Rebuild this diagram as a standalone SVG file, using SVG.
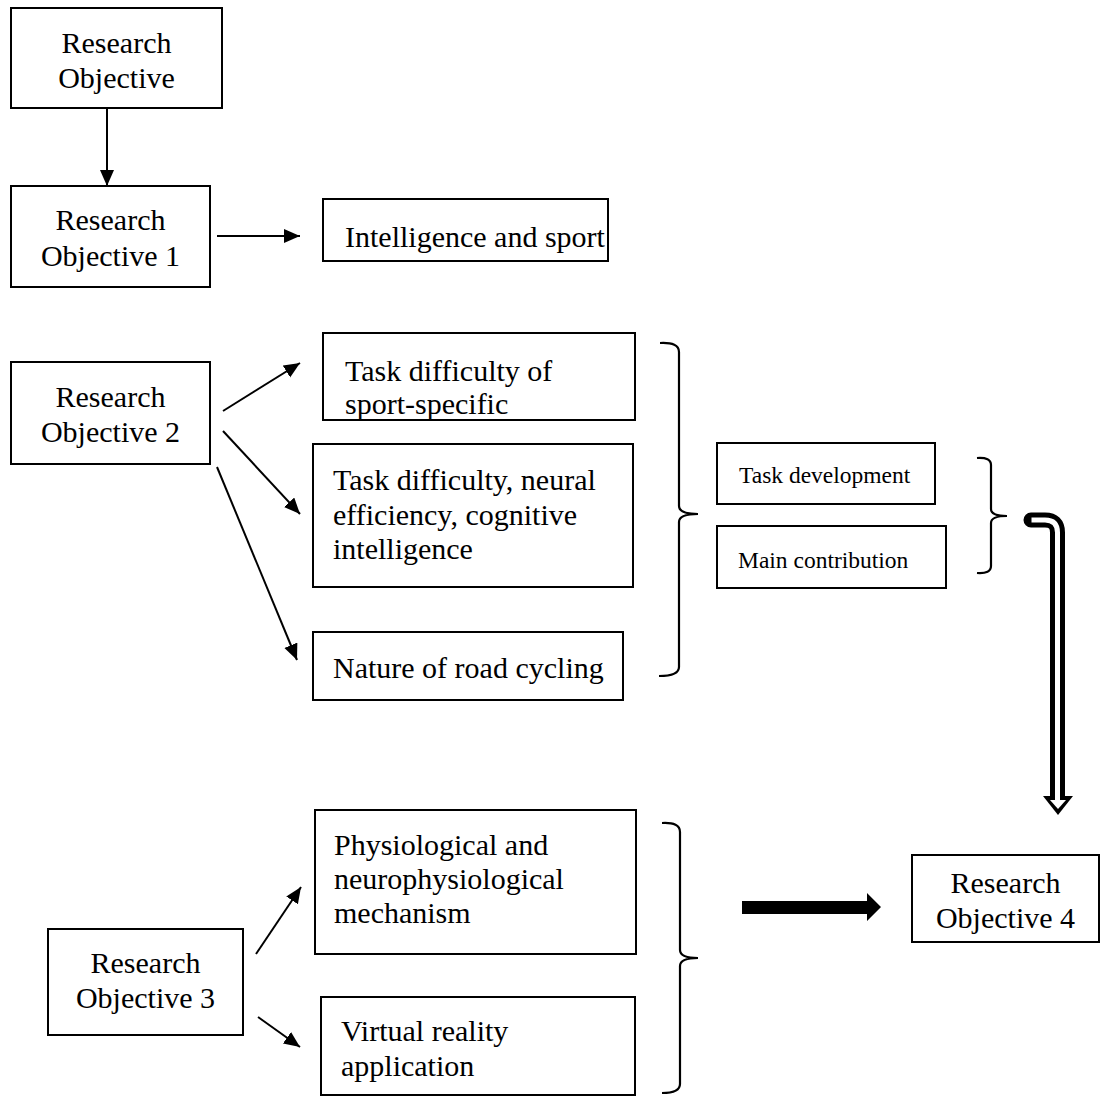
<svg xmlns="http://www.w3.org/2000/svg" width="1101" height="1102" viewBox="0 0 1101 1102">
<style>
.box{fill:#fff;stroke:#000;stroke-width:2}
.t{font-family:"Liberation Serif","Times New Roman",serif;font-size:30px;fill:#000}
.s{font-family:"Liberation Serif","Times New Roman",serif;font-size:23.5px;fill:#000}
.c{text-anchor:middle}
.ln{fill:none;stroke:#000;stroke-width:2}
.br{fill:none;stroke:#000;stroke-width:2.2}
</style>
<defs>
<marker id="ah" markerUnits="userSpaceOnUse" markerWidth="17" markerHeight="15" refX="16" refY="7" orient="auto">
<path d="M0,0 L16,7 L0,14 z" fill="#000"/>
</marker>
</defs>
<rect width="1101" height="1102" fill="#fff"/>
<g id="ro">
<rect class="box" x="11" y="8" width="211" height="100"/>
<text class="t c" x="116.5" y="53">Research</text>
<text class="t c" x="116.5" y="88">Objective</text>
</g>
<g id="ro1">
<rect class="box" x="11" y="186" width="199" height="101"/>
<text class="t c" x="110.5" y="230">Research</text>
<text class="t c" x="110.5" y="266">Objective 1</text>
</g>
<g id="intel">
<rect class="box" x="323" y="199" width="285" height="62"/>
<text class="t" x="345" y="247">Intelligence and sport</text>
</g>
<g id="ro2">
<rect class="box" x="11" y="362" width="199" height="102"/>
<text class="t c" x="110.5" y="407">Research</text>
<text class="t c" x="110.5" y="442">Objective 2</text>
</g>
<g id="taskdiff">
<rect class="box" x="323" y="333" width="312" height="87"/>
<text class="t" x="345" y="381">Task difficulty of</text>
<text class="t" x="345" y="414">sport-specific</text>
</g>
<g id="neural">
<rect class="box" x="313" y="444" width="320" height="143"/>
<text class="t" x="333" y="490">Task difficulty, neural</text>
<text class="t" x="333" y="525">efficiency, cognitive</text>
<text class="t" x="333" y="559">intelligence</text>
</g>
<g id="nature">
<rect class="box" x="313" y="632" width="310" height="68"/>
<text class="t" x="333" y="678">Nature of road cycling</text>
</g>
<g id="taskdev">
<rect class="box" x="717" y="443" width="218" height="61"/>
<text class="s" x="739" y="483">Task development</text>
</g>
<g id="maincontrib">
<rect class="box" x="717" y="526" width="229" height="62"/>
<text class="s" x="738" y="568">Main contribution</text>
</g>
<g id="physio">
<rect class="box" x="315" y="810" width="321" height="144"/>
<text class="t" x="334" y="855">Physiological and</text>
<text class="t" x="334" y="889">neurophysiological</text>
<text class="t" x="334" y="923">mechanism</text>
</g>
<g id="virtual">
<rect class="box" x="321" y="997" width="314" height="98"/>
<text class="t" x="341" y="1041">Virtual reality</text>
<text class="t" x="341" y="1076">application</text>
</g>
<g id="ro3">
<rect class="box" x="48" y="929" width="195" height="106"/>
<text class="t c" x="145.5" y="973">Research</text>
<text class="t c" x="145.5" y="1008">Objective 3</text>
</g>
<g id="ro4">
<rect class="box" x="912" y="855" width="187" height="87"/>
<text class="t c" x="1005.5" y="893">Research</text>
<text class="t c" x="1005.5" y="928">Objective 4</text>
</g>
<g id="connectors">
<line class="ln" x1="107" y1="109" x2="107" y2="186" marker-end="url(#ah)"/>
<line class="ln" x1="217" y1="236" x2="300" y2="236" marker-end="url(#ah)"/>
<line class="ln" x1="223" y1="411" x2="300" y2="363" marker-end="url(#ah)"/>
<line class="ln" x1="223" y1="431" x2="300" y2="514" marker-end="url(#ah)"/>
<line class="ln" x1="217" y1="467" x2="297" y2="660" marker-end="url(#ah)"/>
<line class="ln" x1="256" y1="954" x2="301" y2="887" marker-end="url(#ah)"/>
<line class="ln" x1="258" y1="1017" x2="300" y2="1047" marker-end="url(#ah)"/>
<path class="br" d="M660,343 Q679,342 679,352 L679,506 Q679,514 698,514 Q679,514 679,522 L679,667 Q679,676 659,676"/>
<path class="br" d="M977,458 Q991,457 991,465 L991,509 Q991,516 1007,516 Q991,516 991,523 L991,566 Q991,574 977,573"/>
<path class="br" d="M662,823 Q680,822 680,832 L680,950 Q680,958 698,958 Q680,958 680,966 L680,1084 Q680,1093 662,1093"/>
<path d="M1031,520 L1045,520 Q1057.5,520 1057.5,532.5 L1057.5,798" fill="none" stroke="#000" stroke-width="15" stroke-linecap="round"/>
<path d="M1029,520 L1045,520 Q1057.5,520 1057.5,532.5 L1057.5,802" fill="none" stroke="#fff" stroke-width="5"/>
<path d="M1028.5,516 L1028.5,524" stroke="#000" stroke-width="6"/>
<polygon points="1043,796 1073,796 1058,815" fill="#000"/>
<polygon points="1050,800 1066,800 1058,809" fill="#fff"/>
<rect x="1055" y="790" width="5" height="12" fill="#fff"/>
<polygon points="742,901 867,901 867,893 881,907 867,921 867,914 742,914" fill="#000"/>
</g>
</svg>
